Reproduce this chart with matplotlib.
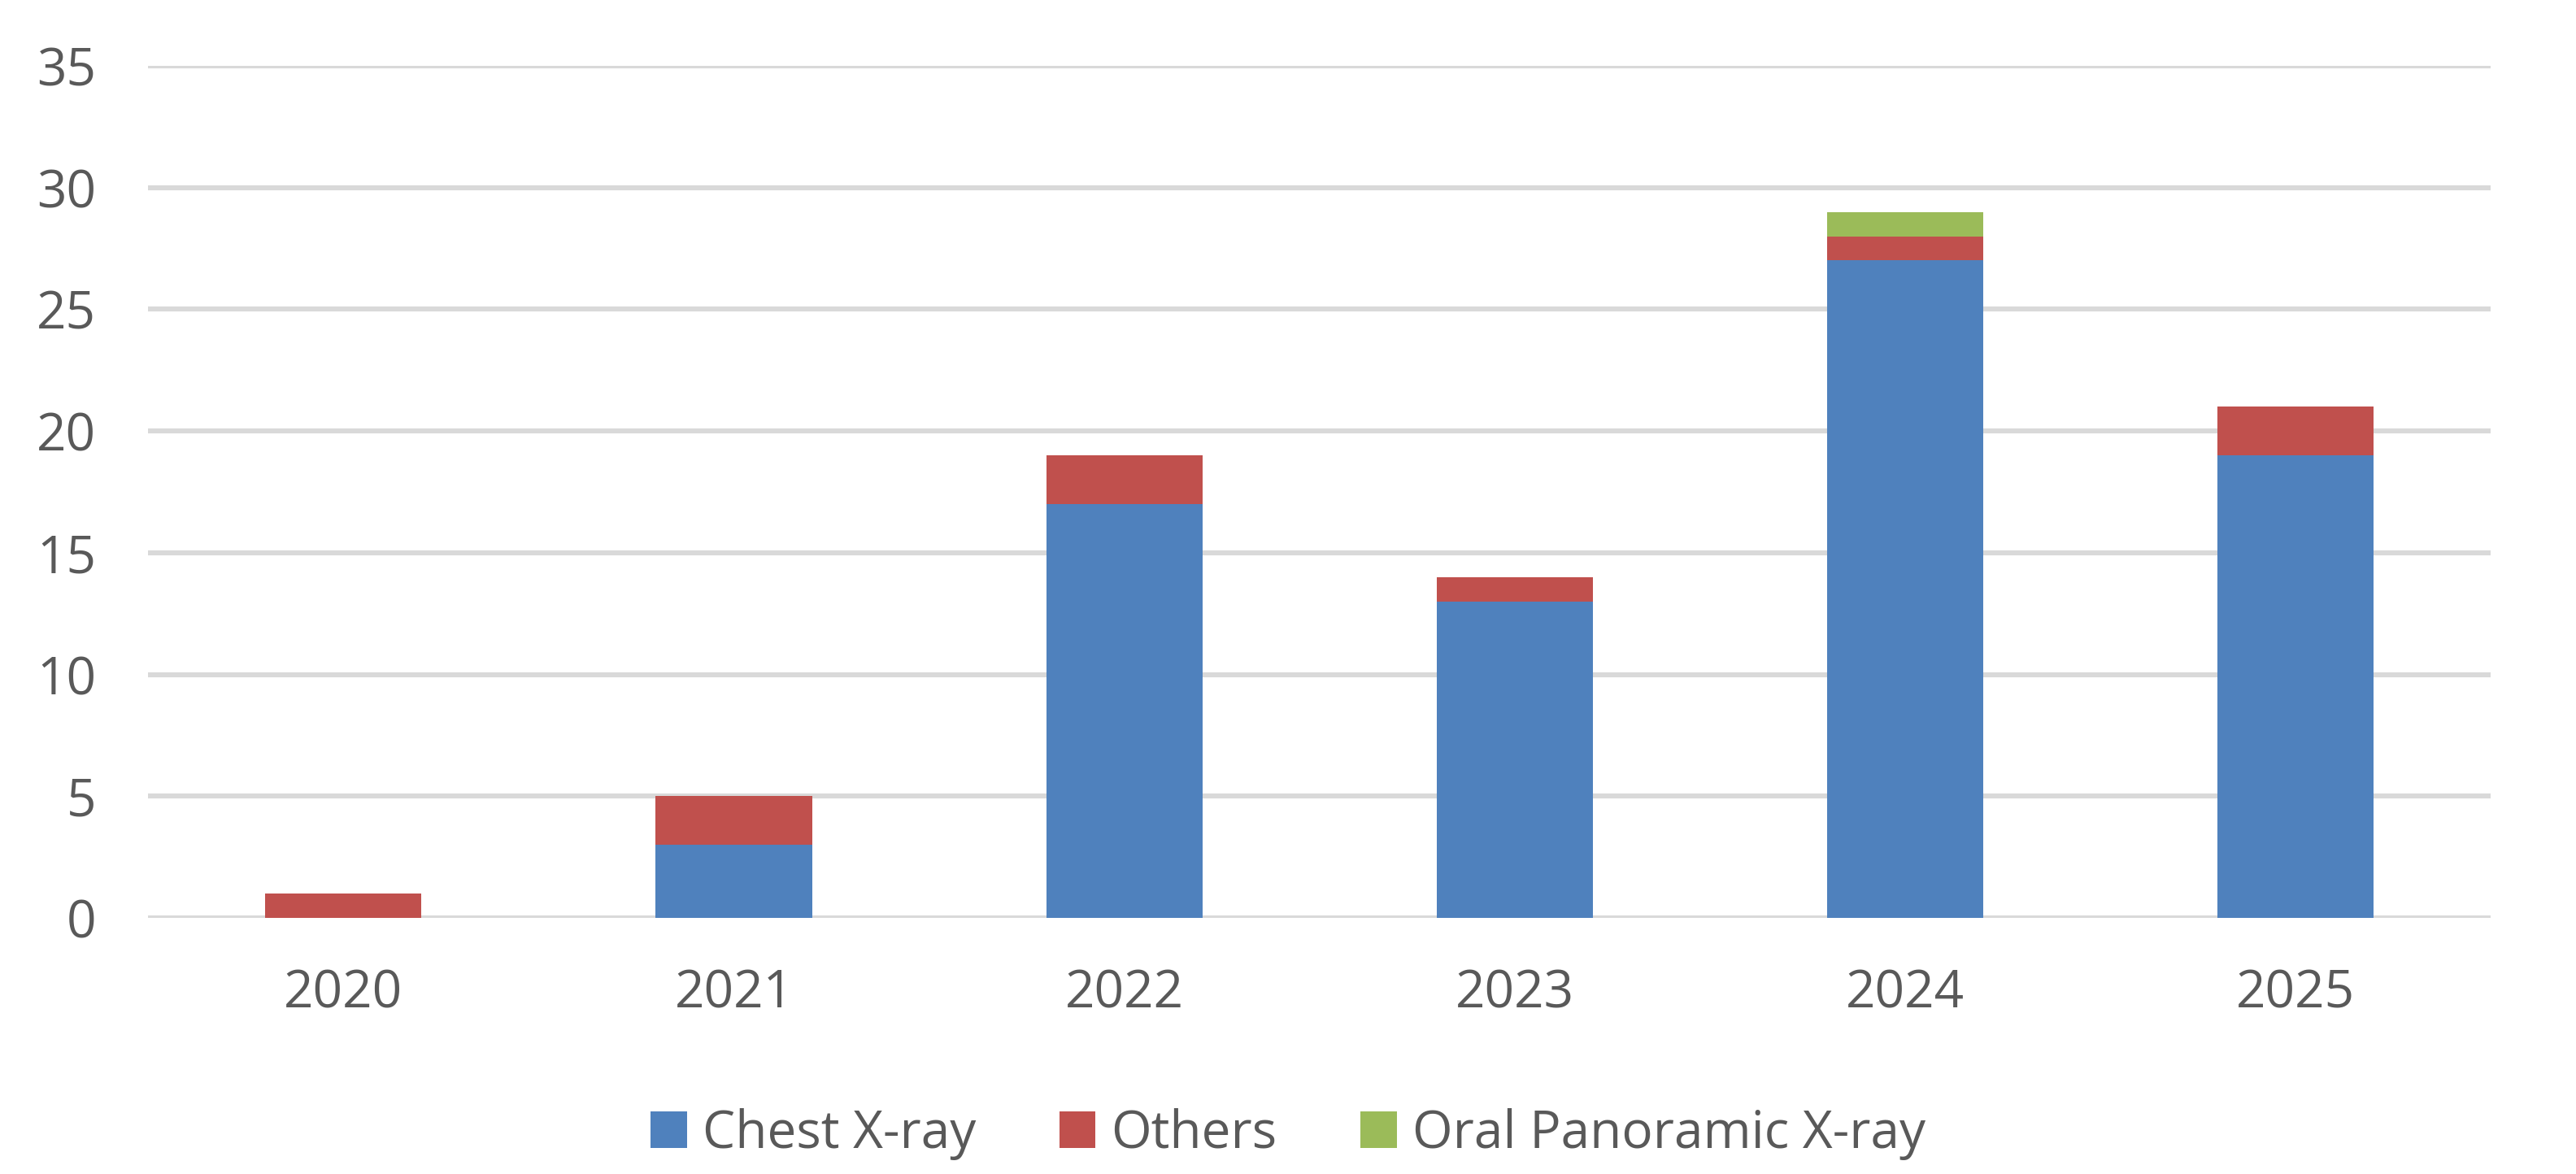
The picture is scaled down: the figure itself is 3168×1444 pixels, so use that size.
import numpy as np
import matplotlib
matplotlib.use("Agg")
import matplotlib.pyplot as plt

years = ["2020", "2021", "2022", "2023", "2024", "2025"]
chest_xray = [0, 3, 17, 13, 27, 19]
others = [1, 2, 2, 1, 1, 2]
oral_panoramic = [0, 0, 0, 0, 1, 0]

plt.rcParams['font.family'] = ['Open Sans', 'DejaVu Sans']
text_color = '#595959'

fig = plt.figure(figsize=(15.84, 7.22), dpi=200)
ax = fig.add_axes([0.0575, 0.218, 0.9095, 0.726])

x = np.arange(len(years))
width = 0.4
chest = np.array(chest_xray)
oth = np.array(others)
oral = np.array(oral_panoramic)

ax.bar(x, chest, width, color='#4F81BD', label='Chest X-ray', zorder=3)
ax.bar(x, oth, width, bottom=chest, color='#C0504D', label='Others', zorder=3)
ax.bar(x, oral, width, bottom=chest + oth, color='#9BBB59',
       label='Oral Panoramic X-ray', zorder=3)

ax.set_ylim(0, 35)
ax.set_xlim(-0.5, len(years) - 0.5)
ax.set_yticks(range(0, 36, 5))
ax.set_xticks(x)
ax.set_xticklabels(years)
ax.yaxis.grid(True, color='#D9D9D9', linewidth=2.2, zorder=0)
ax.set_axisbelow(True)
for s in ax.spines.values():
    s.set_visible(False)
ax.tick_params(axis='both', length=0, labelsize=23, colors=text_color)
ax.tick_params(axis='y', pad=23)
ax.tick_params(axis='x', pad=22)

fig.legend(loc='center', bbox_to_anchor=(0.5, 0.034), ncol=3, frameon=False,
           fontsize=23, labelcolor=text_color, handlelength=0.7,
           handleheight=0.7, handletextpad=0.3, columnspacing=1.6)

fig.savefig("out.png", dpi=200, facecolor='white')
